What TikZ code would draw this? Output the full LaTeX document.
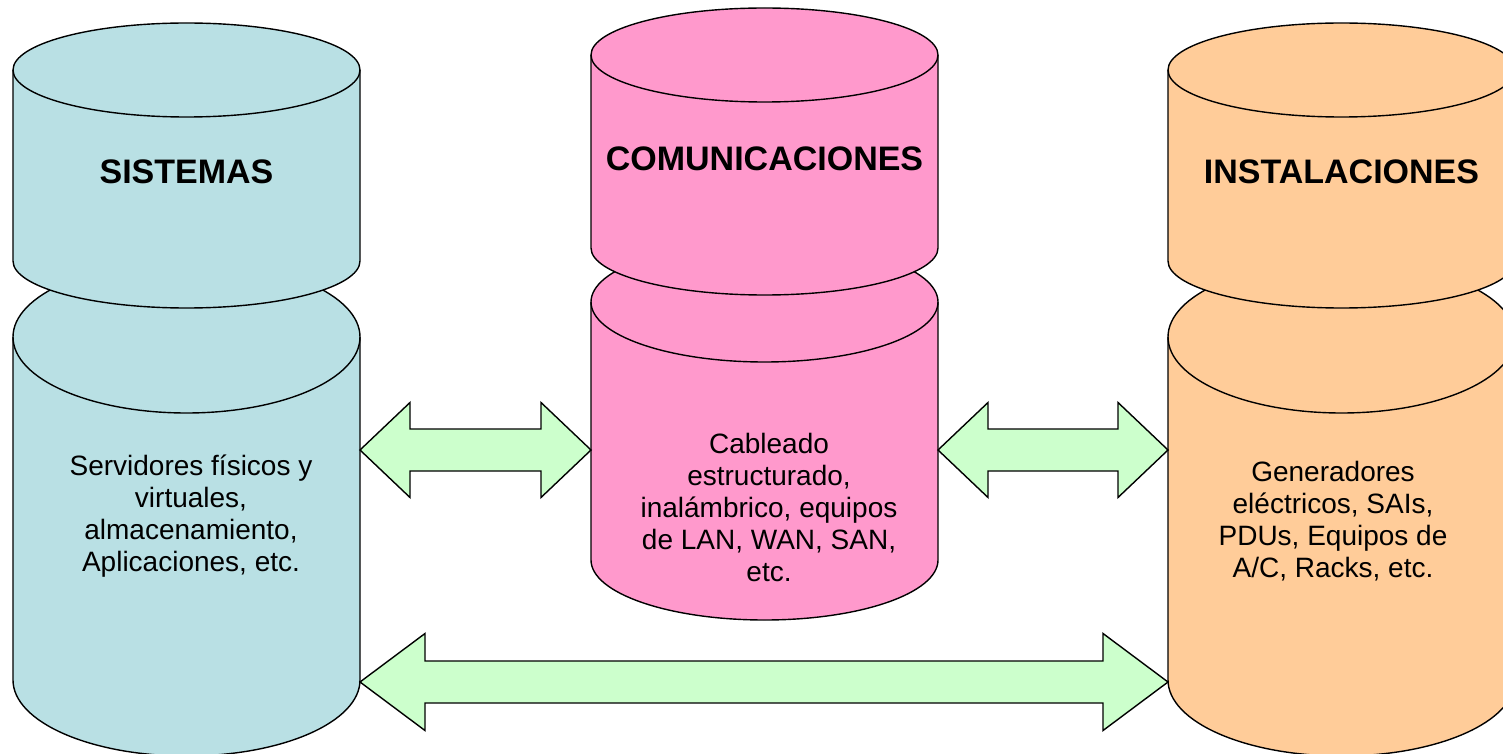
\documentclass[tikz,border=0pt]{standalone}
\usepackage{fontspec}
\setmainfont{Liberation Sans}
\usepackage{tikz}
\usetikzlibrary{calc}
\usepackage{xcolor}
\definecolor{sysblue}{RGB}{185,224,228}
\definecolor{compink}{RGB}{255,153,204}
\definecolor{instorange}{RGB}{255,204,153}
\definecolor{linkgreen}{RGB}{204,255,204}
\tikzstyle{drum} = [draw=black, line width=0.7pt, line join=round]
\tikzstyle{title} = [font=\bfseries\fontsize{17}{20}\selectfont, align=center]
\tikzstyle{body} = [font=\fontsize{14}{16}\selectfont, align=center]
\tikzstyle{twoway} = [draw=black, fill=linkgreen, line width=0.7pt, line join=miter]

% barrel: left x, right x, top y, bottom y, y radius, colour
\newcommand{\barrel}[6]{%
  \pgfmathsetmacro{\barrelrx}{(#2-#1)/2}
  \filldraw[drum, fill=#6] (#1,#3) -- (#1,#4)
    arc[start angle=180, end angle=360, x radius=\barrelrx, y radius=#5] -- (#2,#3)
    arc[start angle=0, end angle=180, x radius=\barrelrx, y radius=#5] -- cycle;
  \draw[drum] (#1,#3) arc[start angle=180, end angle=360, x radius=\barrelrx, y radius=#5];
}
% fat double arrow: from, to, head length, head half, shaft half
\newcommand{\linkarrow}[5]{%
  \draw[twoway] (#1) -- ($(#1)+(#3,#4)$) -- ($(#1)+(#3,#5)$) -- ($(#2)+(-#3,#5)$)
    -- ($(#2)+(-#3,#4)$) -- (#2) -- ($(#2)+(-#3,-#4)$) -- ($(#2)+(-#3,-#5)$)
    -- ($(#1)+(#3,-#5)$) -- ($(#1)+(#3,-#4)$) -- cycle;
}

\begin{document}
\begin{tikzpicture}[x=0.5pt, y=0.5pt]
\useasboundingbox (0,0) rectangle (1503,-754);
\clip (0,0) rectangle (1503,-754);

% lower drums first
\barrel{13}{360}{-337}{-680}{76}{sysblue}
\barrel{591}{938}{-302}{-560}{60}{compink}
\barrel{1168}{1515}{-337}{-680}{76}{instorange}
% upper drums
\barrel{13}{360}{-70}{-261}{47}{sysblue}
\barrel{591}{938}{-55}{-248}{47}{compink}
\barrel{1168}{1515}{-70}{-261}{47}{instorange}

\coordinate (sysE) at (360,-450);
\coordinate (comW) at (591,-450);
\coordinate (comE) at (938,-450);
\coordinate (instW) at (1168,-450);
\coordinate (sysSE) at (360,-682);
\coordinate (instSW) at (1168,-682);

\linkarrow{sysE}{comW}{50}{47.5}{21}
\linkarrow{comE}{instW}{50}{47.5}{21}
\linkarrow{sysSE}{instSW}{65}{48.5}{21}

\node (systitle) [title] at (186.5,-171.5) {SISTEMAS};
\node (comtitle) [title] at (764.5,-158.5) {COMUNICACIONES};
\node (insttitle) [title] at (1341.5,-171.5) {INSTALACIONES};

\node (sysbody) [body] at (191,-516) {Servidores físicos y\\virtuales,\\almacenamiento,\\Aplicaciones, etc.};
\node (combody) [body] at (769,-507) {Cableado\\estructurado,\\inalámbrico, equipos\\de LAN, WAN, SAN,\\etc.};
\node (instbody) [body] at (1333,-521) {Generadores\\eléctricos, SAIs,\\PDUs, Equipos de\\A/C, Racks, etc.};
\end{tikzpicture}
\end{document}
